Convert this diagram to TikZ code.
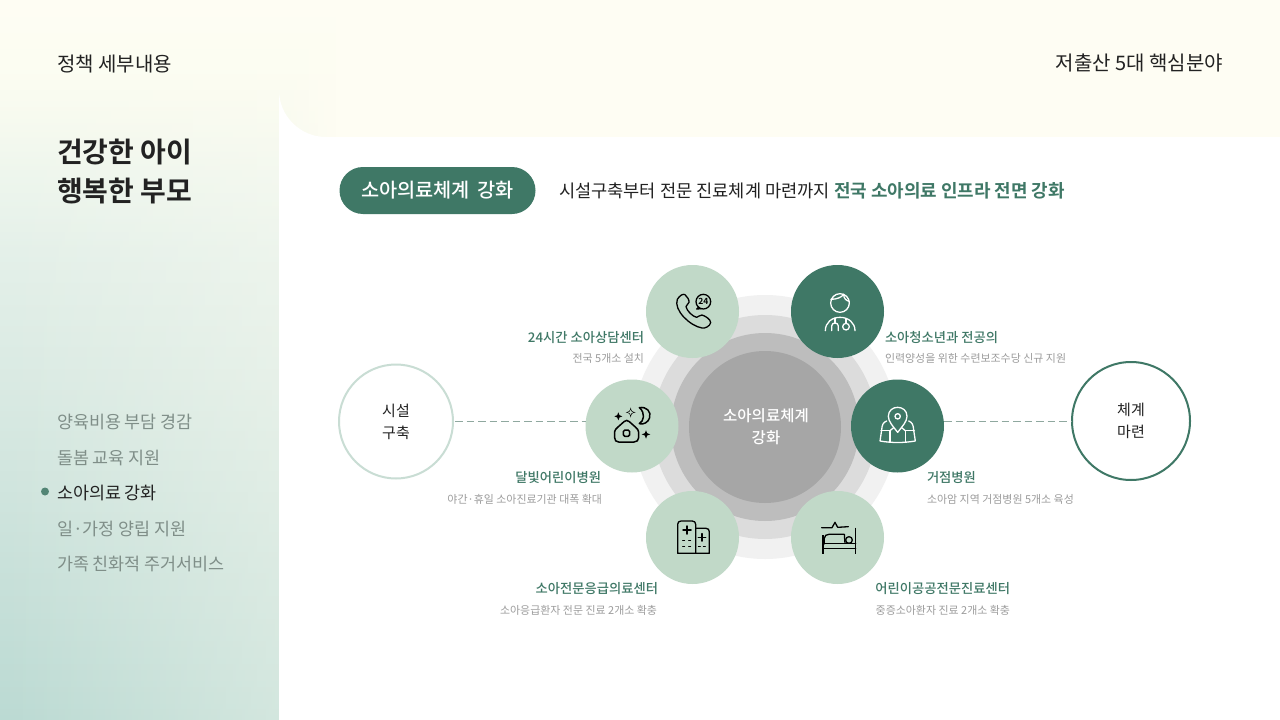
\documentclass[tikz,border=0pt]{standalone}
\usepackage{fontspec}
\usetikzlibrary{fadings}
\setmainfont{Noto Sans CJK KR}[BoldFont={Noto Sans CJK KR Bold}]
\newfontfamily\krm{Noto Sans CJK KR Medium}
\definecolor{cream}{HTML}{FEFDF3}
\definecolor{bgt}{HTML}{FCFDF2}
\definecolor{bg0}{HTML}{F7FAEF}
\definecolor{bga}{HTML}{EEF6ED}
\definecolor{bgb}{HTML}{E4F0E9}
\definecolor{bgc}{HTML}{D8E9E2}
\definecolor{bgd}{HTML}{C9E1DA}
\definecolor{bge}{HTML}{BBDAD3}
\definecolor{dgreen}{HTML}{3F7866}
\definecolor{lgreen}{HTML}{C1D9C8}
\definecolor{ringc}{HTML}{C9DDD4}
\definecolor{ink}{HTML}{222222}
\definecolor{navgray}{HTML}{7F8E88}
\definecolor{subgray}{HTML}{9C9C9C}
\definecolor{ra}{HTML}{A6A6A6}
\definecolor{rb}{HTML}{BDBDBD}
\definecolor{rc}{HTML}{DCDCDC}
\definecolor{rd}{HTML}{F1F1F1}
\definecolor{dashc}{HTML}{8FA89F}
\pgfdeclareverticalshading{sidebg}{100bp}{
 color(0bp)=(bge); color(25bp)=(bge); color(36bp)=(bgd); color(47.2bp)=(bgc); color(57.6bp)=(bgb); color(63bp)=(bga); color(67bp)=(bg0); color(70.5bp)=(bgt); color(75bp)=(cream); color(100bp)=(cream)}
\tikzfading[name=sidefade,left color=transparent!100,right color=transparent!56]
\newcommand{\fs}[1]{\fontsize{#1}{#1}\selectfont}
\tikzset{
 x=1pt,y=-1pt,
 txt/.style={inner sep=0pt,outer sep=0pt,text=ink},
 nav/.style={txt,anchor=west,text=navgray,font=\fs{17.4}},
 head/.style={txt,anchor=east,text=dgreen,font=\krm\fs{13.3}},
 sub/.style={txt,anchor=east,text=subgray,font=\fs{10.95}},
 headl/.style={head,anchor=west},
 subl/.style={sub,anchor=west},
 disc/.style={circle,minimum size=93pt,inner sep=0pt,outer sep=0pt,fill=#1},
 rg/.style={circle,inner sep=0pt,outer sep=0pt,fill=#1},
 end/.style={circle,fill=white,draw=#1,line width=2pt,inner sep=0pt,align=center,text=ink,font=\fs{15}},
 link/.style={dash pattern=on 7.5pt off 4pt,line width=1pt,draw=dashc},
 ico/.style={line width=1.3pt,draw=#1,line cap=round,line join=round},
 at3/.style={shift={#1},x=0.33333pt,y=-0.33333pt}
}
\begin{document}
\begin{tikzpicture}
\useasboundingbox (0,0) rectangle (1280,720);
\fill[cream] (0,0) rectangle (1280,720);
\shade[shading=sidebg] (0,0) rectangle (340,720);
\fill[cream,path fading=sidefade] (0,0) rectangle (340,720);
\foreach \sx in {0,3,...,60}{
 \pgfmathsetmacro{\so}{min(1,(\sx+1.5)/58)}
 \fill[cream,fill opacity=\so] (279+\sx,0) rectangle (282+\sx,140);
}
% panel
\fill[white] (1280,137) -- (326,137) arc[start angle=90,end angle=180,radius=47] -- (279,720) -- (1280,720) -- cycle;
% left column
\node[txt,anchor=west,font=\fs{20}] (ttl) at (57,64) {정책 세부내용};
\node[txt,anchor=east,font=\fs{20}] (ttr) at (1223,63) {저출산 5대 핵심분야};
\node[txt,anchor=west,font=\bfseries\fs{28}] (t1) at (57,152) {건강한 아이};
\node[txt,anchor=west,font=\bfseries\fs{28}] (t2) at (57,191) {행복한 부모};
\node[nav] (n1) at (57,422) {양육비용 부담 경감};
\node[nav] (n2) at (57,458) {돌봄 교육 지원};
\node[nav,text=ink] (n3) at (57,493) {소아의료 강화};
\node[nav] (n4) at (57,529) {일·가정 양립 지원};
\node[nav] (n5) at (57,564) {가족 친화적 주거서비스};
\node[circle,fill=dgreen!90!white,minimum size=8pt,inner sep=0pt] (bul) at (45,491.5) {};
% header
\node[fill=dgreen,rounded corners=23.5pt,minimum width=196pt,minimum height=47pt,inner sep=0pt,text=white,font=\krm\fs{19.7}] (pill) at (437.5,190.5) {소아의료체계\hspace{8pt}강화};
\node[txt,anchor=west,font=\fs{17.6}] (s1) at (559,191) {시설구축부터 전문 진료체계 마련까지};
\node[txt,anchor=west,text=dgreen,font=\bfseries\fs{17.95}] (s2) at (834,191) {전국 소아의료 인프라 전면 강화};
% rings
\node[rg=rd,minimum size=264pt] (r4) at (765,427) {};
\node[rg=rc,minimum size=224pt] (r3) at (765,427) {};
\node[rg=rb,minimum size=188pt] (r2) at (765,427) {};
\node[rg=ra,minimum size=152pt] (core) at (765,427) {};
\node[txt,text=white,align=center,font=\krm\fs{15.5}] (coret) at (766,426.5) {소아의료체계\\[7pt]강화};
% end circles
\node[end=ringc,minimum size=114pt] (left) at (396,421.5) {시설\\[7pt]구축};
\node[end=dgreen,minimum size=118pt] (right) at (1131,421) {\raisebox{-1pt}{체계}\\[7pt]\raisebox{-1pt}{마련}};
% discs
\node[disc=lgreen] (d1) at (692.5,311.5) {};
\node[disc=dgreen] (d2) at (837.5,311.5) {};
\node[disc=lgreen] (d3) at (632,426) {};
\node[disc=dgreen] (d4) at (897.5,426) {};
\node[disc=lgreen] (d5) at (692.5,537.5) {};
\node[disc=lgreen] (d6) at (837.5,537.5) {};
% links
\draw[link] (left.east) ++(1,0) -- (d3.west |- left.east);
\draw[link] (d4.east |- right.west) -- (right.west);
% labels
\node[head] (h1) at (644,338) {24시간 소아상담센터};
\node[sub] (b1) at (644,358) {전국 5개소 설치};
\node[headl] (h2) at (885,338) {소아청소년과 전공의};
\node[subl] (b2) at (885,358) {인력양성을 위한 수련보조수당 신규 지원};
\node[head] (h3) at (601,478) {달빛어린이병원};
\node[sub] (b3) at (602,499) {야간·휴일 소아진료기관 대폭 확대};
\node[headl] (h4) at (927,478) {거점병원};
\node[subl] (b4) at (927,499) {소아암 지역 거점병원 5개소 육성};
\node[head] (h5) at (658,589) {소아전문응급의료센터};
\node[sub] (b5) at (657,610) {소아응급환자 전문 진료 2개소 확충};
\node[head] (h6) at (1010,589) {어린이공공전문진료센터};
\node[sub] (b6) at (1010,610) {중증소아환자 진료 2개소 확충};
% phone icon
\begin{scope}[at3={(640,260)}]
\draw[ico=black] (112,118) .. controls (118,108) and (128,100) .. (135,104) .. controls (142,110) and (148,120) .. (147,127) .. controls (146,133) and (138,134) .. (138,140) .. controls (140,152) and (158,170) .. (170,172) .. controls (176,172) and (178,164) .. (186,165) .. controls (196,168) and (212,178) .. (212,188) .. controls (210,198) and (196,206) .. (186,204) .. controls (150,198) and (100,150) .. (112,118) -- cycle;
\draw[ico=black] (190,125) circle[radius=22];
\draw[ico=black] (176,141) -- (170,147) -- (184,146);
\node[inner sep=0pt,font=\bfseries\fs{8.5}] (c24) at (190,125) {24};
\end{scope}
% doctor icon
\begin{scope}[at3={(785,260)}]
\draw[ico=white] (165,129) circle[radius=28];
\draw[ico=white] (138,118) .. controls (155,118) and (170,112) .. (176,103);
\draw[ico=white] (176,103) .. controls (176,115) and (183,122) .. (193,124);
\draw[ico=white] (121,212) .. controls (121,188) and (140,172) .. (165,172) .. controls (190,172) and (210,188) .. (210,212);
\draw[ico=white] (140,212) -- (140,198) .. controls (140,186) and (160,186) .. (160,198) -- (160,212);
\draw[ico=white] (150,188) -- (150,174);
\draw[ico=white] (183,176) -- (183,190);
\draw[ico=white] (183,200) circle[radius=10];
\end{scope}
% house icon
\begin{scope}[at3={(580,375)}]
\draw[ico=black,line width=1.5pt] (114,156) -- (132,140) .. controls (137,135) and (143,135) .. (148,140) -- (166,156) .. controls (172,162) and (176,165) .. (176,172) -- (176,188) .. controls (176,196) and (170,201) .. (162,201) -- (116,201) .. controls (108,201) and (104,196) .. (104,188) -- (104,170) .. controls (104,165) and (108,162) .. (114,156) -- cycle;
\draw[ico=black,line width=1.5pt,rounded corners=1.5pt] (130,165) rectangle (149,184);
\fill[black] (152,97) .. controls (154,108) and (156,110) .. (167,112) .. controls (156,114) and (154,116) .. (152,128) .. controls (150,116) and (148,114) .. (137,112) .. controls (148,110) and (150,108) .. (152,97) -- cycle;
\fill[lgreen] (152,104) .. controls (153,109) and (155,111) .. (160,112) .. controls (155,113) and (153,115) .. (152,120) .. controls (151,115) and (149,113) .. (144,112) .. controls (149,111) and (151,109) .. (152,104) -- cycle;
\fill[black] (115,112) .. controls (116,120) and (119,123) .. (127,124) .. controls (119,125) and (116,128) .. (115,136) .. controls (114,128) and (111,125) .. (103,124) .. controls (111,123) and (114,120) .. (115,112) -- cycle;
\fill[black] (198,166) .. controls (199,174) and (202,177) .. (211,178) .. controls (202,179) and (199,182) .. (198,191) .. controls (197,182) and (194,179) .. (185,178) .. controls (194,177) and (197,174) .. (198,166) -- cycle;
\draw[ico=black,line width=1.5pt] (178,98) .. controls (200,94) and (214,110) .. (209,128) .. controls (205,142) and (190,150) .. (178,146) .. controls (192,138) and (197,114) .. (178,98) -- cycle;
\end{scope}
% pin icon
\begin{scope}[at3={(845,375)}]
\draw[ico=white] (158,172) .. controls (145,155) and (130,140) .. (130,124) .. controls (130,88) and (186,88) .. (186,124) .. controls (186,140) and (171,155) .. (158,172) -- cycle;
\draw[ico=white] (158,124) circle[radius=8];
\draw[ico=white] (125,138) .. controls (114,142) and (111,150) .. (110,165) -- (105,198) .. controls (140,204) and (176,204) .. (211,198) -- (206,165) .. controls (205,150) and (202,142) .. (191,138);
\draw[ico=white] (108,167) -- (135,167) -- (135,200);
\draw[ico=white] (208,167) -- (181,167) -- (181,200);
\draw[ico=white] (135,167) -- (146,158);
\draw[ico=white] (181,167) -- (170,158);
\end{scope}
% buildings icon
\begin{scope}[at3={(640,485)}]
\draw[ico=black] (113,205) -- (113,118) .. controls (113,112) and (117,108) .. (123,108) -- (157,108) .. controls (163,108) and (167,112) .. (167,118) -- (167,205) -- cycle;
\draw[ico=black] (167,130) -- (198,130) .. controls (204,130) and (208,134) .. (208,140) -- (208,205) -- (167,205);
\draw[ico=black,line width=1.5pt] (141,123) -- (141,147) (129,135) -- (153,135);
\draw[ico=black,line width=1.5pt] (186,146) -- (186,168) (175,157) -- (197,157);
\draw[ico=black,line width=1pt] (128,167) -- (134,167) (146,167) -- (152,167) (128,184) -- (134,184) (146,184) -- (152,184);
\draw[ico=black,line width=1pt] (175,184) -- (181,184) (190,184) -- (196,184);
\end{scope}
% bed icon
\begin{scope}[at3={(785,485)}]
\draw[ico=black] (110,128) -- (141,128) -- (150,112) -- (158,127) -- (190,125);
\draw[ico=black,line width=2pt,line cap=butt] (114,150) -- (114,208);
\draw[ico=black,line width=0.7pt,line cap=butt] (212,128) -- (212,208);
\draw[ico=black] (118,177) -- (118,160) .. controls (118,152) and (124,148) .. (132,148) -- (178,148) -- (180,175);
\draw[ico=black] (192,165) circle[radius=10];
\draw[ico=black] (114,176) -- (212,176);
\draw[ico=black] (114,191) -- (212,191);
\end{scope}
\end{tikzpicture}
\end{document}
